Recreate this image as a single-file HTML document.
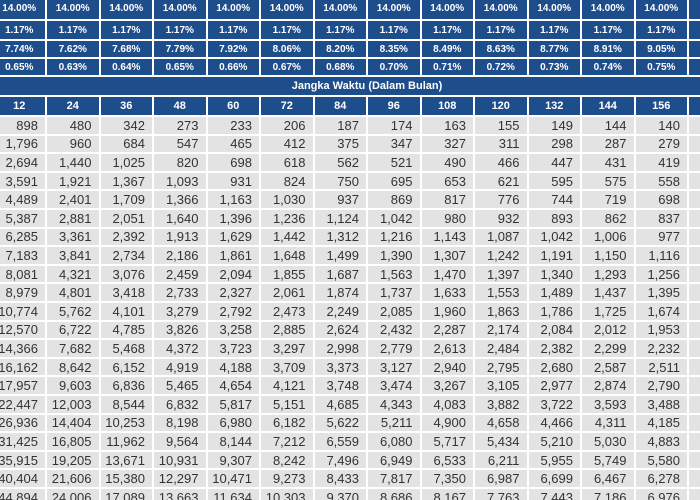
<!DOCTYPE html>
<html><head><meta charset="utf-8"><style>
html,body{margin:0;padding:0;width:700px;height:500px;overflow:hidden;background:#fff;font-family:"Liberation Sans",sans-serif}
#wrap{position:absolute;left:0;top:0;width:700px;height:500px;overflow:hidden}
.c{position:absolute;box-sizing:border-box;border-right:2px solid #fff;border-bottom:2px solid #fff;display:flex;align-items:center}
.h{background:#1e4d8c;color:#fff;justify-content:center;font-size:10px;font-weight:bold}
.d{background:#e3e3e3;color:#333;justify-content:flex-end;padding-right:7px;font-size:13px}
</style></head><body>
<div id="wrap"></div>
<script>
const months=[12,24,36,48,60,72,84,96,108,120,132,144,156];
const rate1=["14.00%","14.00%","14.00%","14.00%","14.00%","14.00%","14.00%","14.00%","14.00%","14.00%","14.00%","14.00%","14.00%"];
const rate2=["1.17%","1.17%","1.17%","1.17%","1.17%","1.17%","1.17%","1.17%","1.17%","1.17%","1.17%","1.17%","1.17%"];
const rate3=["7.74%","7.62%","7.68%","7.79%","7.92%","8.06%","8.20%","8.35%","8.49%","8.63%","8.77%","8.91%","9.05%"];
const rate4=["0.65%","0.63%","0.64%","0.65%","0.66%","0.67%","0.68%","0.70%","0.71%","0.72%","0.73%","0.74%","0.75%"];
const rows=[
[898,480,342,273,233,206,187,174,163,155,149,144,140],
[1796,960,684,547,465,412,375,347,327,311,298,287,279],
[2694,1440,1025,820,698,618,562,521,490,466,447,431,419],
[3591,1921,1367,1093,931,824,750,695,653,621,595,575,558],
[4489,2401,1709,1366,1163,1030,937,869,817,776,744,719,698],
[5387,2881,2051,1640,1396,1236,1124,1042,980,932,893,862,837],
[6285,3361,2392,1913,1629,1442,1312,1216,1143,1087,1042,1006,977],
[7183,3841,2734,2186,1861,1648,1499,1390,1307,1242,1191,1150,1116],
[8081,4321,3076,2459,2094,1855,1687,1563,1470,1397,1340,1293,1256],
[8979,4801,3418,2733,2327,2061,1874,1737,1633,1553,1489,1437,1395],
[10774,5762,4101,3279,2792,2473,2249,2085,1960,1863,1786,1725,1674],
[12570,6722,4785,3826,3258,2885,2624,2432,2287,2174,2084,2012,1953],
[14366,7682,5468,4372,3723,3297,2998,2779,2613,2484,2382,2299,2232],
[16162,8642,6152,4919,4188,3709,3373,3127,2940,2795,2680,2587,2511],
[17957,9603,6836,5465,4654,4121,3748,3474,3267,3105,2977,2874,2790],
[22447,12003,8544,6832,5817,5151,4685,4343,4083,3882,3722,3593,3488],
[26936,14404,10253,8198,6980,6182,5622,5211,4900,4658,4466,4311,4185],
[31425,16805,11962,9564,8144,7212,6559,6080,5717,5434,5210,5030,4883],
[35915,19205,13671,10931,9307,8242,7496,6949,6533,6211,5955,5749,5580],
[40404,21606,15380,12297,10471,9273,8433,7817,7350,6987,6699,6467,6278],
[44894,24006,17089,13663,11634,10303,9370,8686,8167,7763,7443,7186,6976]
];
const W=53.5, RH=18.6, D0=117, X0=-6.5;
const wrap=document.getElementById('wrap');
function cell(x,y,w,h,cls,txt,name){
  const el=document.createElement('div');
  el.className='c '+cls;
  el.style.left=(X0+x)+'px';el.style.top=y+'px';el.style.width=w+'px';el.style.height=h+'px';
  el.textContent=txt;
  
  
  wrap.appendChild(el);return el;
}
const hdr=[[rate1,-2,23],[rate2,21,20],[rate3,41,18],[rate4,59,18]];
hdr.forEach((r)=>{
  for(let i=0;i<14;i++) cell(i*W,r[1],W,r[2],'h',i<13?r[0][i]:'','rate-cell');
});
const j=cell(0,77,14*W,20,'h','Jangka Waktu (Dalam Bulan)','term-header');
j.style.fontSize='11px';
for(let i=0;i<14;i++){const e=cell(i*W,97,W,20,'h',i<13?String(months[i]):'','month-header');e.style.fontSize='11px';}
rows.forEach((r,ri)=>{
  for(let i=0;i<14;i++) cell(i*W,D0+ri*RH,W,RH,'d',i<13?r[i].toLocaleString('en-US'):'','installment-cell');
});
</script>
</body></html>
